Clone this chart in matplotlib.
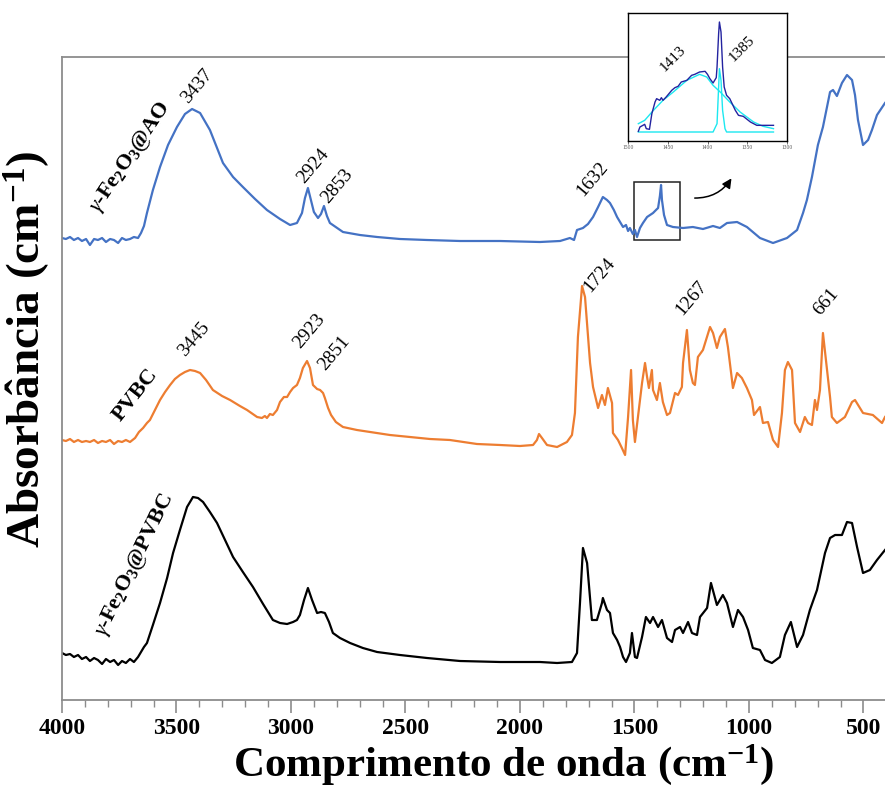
import numpy as np
import matplotlib.pyplot as plt
from matplotlib.patches import Rectangle

plt.rcParams["font.family"] = ["Liberation Serif", "DejaVu Serif"]
plt.rcParams["mathtext.fontset"] = "custom"
plt.rcParams["mathtext.rm"] = "Liberation Serif"
plt.rcParams["mathtext.it"] = "Liberation Serif:italic"
plt.rcParams["mathtext.bf"] = "Liberation Serif:bold"

# ---------------------------------------------------------------------------
# Spectra: (wavenumber cm-1, absorbance a.u.)
# ---------------------------------------------------------------------------
AO = [
    (4000, 4.62), (3983, 4.61), (3965, 4.63), (3948, 4.60), (3930, 4.62), (3913, 4.59),
    (3895, 4.61), (3878, 4.55), (3860, 4.61), (3843, 4.60), (3825, 4.62), (3808, 4.58),
    (3790, 4.61), (3773, 4.60), (3755, 4.57), (3738, 4.62), (3721, 4.60), (3703, 4.61),
    (3686, 4.63), (3668, 4.62), (3655, 4.67), (3642, 4.74), (3629, 4.87), (3603, 5.10),
    (3572, 5.33), (3537, 5.55), (3498, 5.73), (3463, 5.86), (3432, 5.91), (3397, 5.87),
    (3354, 5.70), (3297, 5.37), (3253, 5.23), (3210, 5.13), (3157, 5.01), (3105, 4.90),
    (3048, 4.81), (3004, 4.75), (2974, 4.77), (2952, 4.87), (2939, 5.02), (2926, 5.12),
    (2913, 5.00), (2900, 4.88), (2882, 4.82), (2869, 4.86), (2856, 4.94), (2843, 4.84),
    (2830, 4.77), (2773, 4.68), (2699, 4.65), (2624, 4.63), (2524, 4.61), (2406, 4.60),
    (2262, 4.59), (2087, 4.59), (1913, 4.58), (1825, 4.59), (1782, 4.62), (1764, 4.60),
    (1751, 4.70), (1725, 4.72), (1703, 4.76), (1681, 4.83), (1659, 4.93), (1638, 5.03),
    (1620, 5.00), (1607, 4.97), (1590, 4.90), (1576, 4.83), (1563, 4.78), (1550, 4.73),
    (1537, 4.75), (1528, 4.69), (1520, 4.72), (1507, 4.66), (1498, 4.70), (1489, 4.63),
    (1476, 4.72), (1463, 4.77), (1445, 4.83), (1432, 4.85), (1419, 4.87), (1406, 4.90),
    (1397, 4.92), (1389, 5.04), (1384, 5.15), (1380, 5.00), (1371, 4.85), (1358, 4.75),
    (1332, 4.73), (1288, 4.72), (1245, 4.73), (1201, 4.71), (1157, 4.74), (1127, 4.72),
    (1096, 4.77), (1052, 4.78), (1009, 4.73), (952, 4.62), (895, 4.57), (834, 4.62),
    (790, 4.70), (764, 4.87), (747, 5.00), (725, 5.23), (699, 5.55), (677, 5.73),
    (646, 6.08), (633, 6.10), (616, 6.04), (594, 6.17), (572, 6.25), (550, 6.20),
    (537, 6.05), (524, 5.80), (502, 5.55), (480, 5.60), (463, 5.70), (441, 5.85),
    (406, 5.97),
]

PVBC = [
    (4000, 2.60), (3983, 2.59), (3965, 2.61), (3948, 2.58), (3930, 2.60), (3913, 2.58),
    (3895, 2.59), (3878, 2.58), (3860, 2.60), (3843, 2.57), (3825, 2.59), (3808, 2.58),
    (3790, 2.60), (3773, 2.56), (3755, 2.59), (3738, 2.58), (3721, 2.60), (3703, 2.58),
    (3681, 2.62), (3664, 2.68), (3646, 2.72), (3629, 2.77), (3616, 2.80), (3594, 2.90),
    (3572, 3.00), (3550, 3.08), (3528, 3.15), (3507, 3.21), (3485, 3.25), (3463, 3.28),
    (3441, 3.30), (3419, 3.29), (3397, 3.27), (3371, 3.20), (3341, 3.10), (3301, 3.04),
    (3266, 3.00), (3223, 2.94), (3192, 2.90), (3148, 2.83), (3127, 2.82), (3114, 2.84),
    (3105, 2.82), (3092, 2.86), (3079, 2.85), (3061, 2.90), (3048, 2.98), (3031, 3.03),
    (3017, 3.03), (3004, 3.08), (2991, 3.12), (2974, 3.15), (2961, 3.22), (2948, 3.32),
    (2930, 3.39), (2917, 3.32), (2904, 3.15), (2886, 3.11), (2873, 3.10), (2860, 3.07),
    (2852, 3.02), (2838, 2.92), (2825, 2.85), (2804, 2.78), (2773, 2.73), (2712, 2.70),
    (2655, 2.68), (2568, 2.65), (2480, 2.63), (2393, 2.61), (2306, 2.60), (2188, 2.56),
    (2087, 2.55), (2000, 2.54), (1943, 2.55), (1926, 2.60), (1917, 2.66), (1904, 2.62),
    (1882, 2.55), (1838, 2.53), (1795, 2.58), (1773, 2.65), (1760, 2.87), (1747, 3.63),
    (1729, 4.14), (1716, 4.03), (1694, 3.37), (1681, 3.13), (1659, 2.92), (1642, 3.05),
    (1629, 2.95), (1616, 3.12), (1598, 2.97), (1594, 2.67), (1572, 2.60), (1555, 2.52),
    (1541, 2.45), (1528, 2.83), (1515, 3.30), (1507, 2.80), (1498, 2.58), (1485, 2.83),
    (1467, 3.17), (1454, 3.37), (1445, 3.23), (1437, 3.12), (1424, 3.30), (1419, 3.10),
    (1402, 3.00), (1389, 3.17), (1376, 2.98), (1358, 2.85), (1345, 2.87), (1323, 3.07),
    (1310, 3.05), (1293, 3.13), (1288, 3.37), (1271, 3.70), (1258, 3.30), (1245, 3.17),
    (1236, 3.15), (1223, 3.43), (1201, 3.50), (1170, 3.73), (1157, 3.67), (1140, 3.52),
    (1127, 3.63), (1105, 3.71), (1092, 3.53), (1074, 3.20), (1070, 3.12), (1052, 3.27),
    (1031, 3.22), (1009, 3.12), (987, 3.00), (978, 2.85), (952, 2.93), (939, 2.77),
    (917, 2.78), (895, 2.60), (873, 2.53), (856, 2.87), (843, 3.30), (830, 3.38),
    (812, 3.30), (799, 2.77), (777, 2.68), (756, 2.83), (742, 2.77), (725, 2.75),
    (712, 3.00), (703, 2.90), (690, 3.10), (677, 3.67), (659, 3.30), (646, 3.03),
    (638, 2.83), (616, 2.77), (581, 2.83), (550, 2.98), (537, 3.00), (502, 2.87),
    (459, 2.85), (419, 2.77), (406, 2.83),
]

FE2O3_PVBC = [
    (4000, 0.47), (3983, 0.45), (3965, 0.46), (3948, 0.43), (3930, 0.45), (3913, 0.41),
    (3895, 0.43), (3878, 0.39), (3860, 0.42), (3843, 0.40), (3825, 0.36), (3808, 0.41),
    (3790, 0.38), (3773, 0.40), (3755, 0.35), (3738, 0.39), (3721, 0.37), (3703, 0.41),
    (3686, 0.38), (3668, 0.43), (3655, 0.48), (3642, 0.53), (3629, 0.57), (3603, 0.75),
    (3572, 0.97), (3541, 1.22), (3515, 1.47), (3485, 1.70), (3454, 1.93), (3428, 2.03),
    (3406, 2.02), (3384, 1.98), (3354, 1.88), (3323, 1.77), (3288, 1.60), (3253, 1.43),
    (3210, 1.28), (3166, 1.13), (3122, 0.96), (3079, 0.80), (3048, 0.77), (3017, 0.76),
    (2991, 0.78), (2974, 0.80), (2961, 0.85), (2943, 1.00), (2926, 1.12), (2908, 1.00),
    (2886, 0.87), (2869, 0.88), (2852, 0.87), (2834, 0.78), (2817, 0.67), (2786, 0.62),
    (2742, 0.57), (2686, 0.52), (2624, 0.48), (2524, 0.45), (2406, 0.42), (2262, 0.39),
    (2087, 0.38), (1913, 0.38), (1838, 0.37), (1773, 0.38), (1751, 0.47), (1738, 0.97),
    (1725, 1.52), (1707, 1.37), (1686, 0.80), (1664, 0.80), (1642, 0.97), (1638, 1.02),
    (1620, 0.90), (1607, 0.87), (1594, 0.67), (1576, 0.60), (1563, 0.53), (1550, 0.43),
    (1537, 0.38), (1520, 0.47), (1511, 0.67), (1498, 0.43), (1489, 0.42), (1467, 0.63),
    (1450, 0.83), (1432, 0.77), (1419, 0.83), (1397, 0.73), (1380, 0.80), (1358, 0.62),
    (1336, 0.58), (1323, 0.70), (1301, 0.73), (1288, 0.67), (1266, 0.78), (1249, 0.67),
    (1227, 0.65), (1214, 0.83), (1183, 0.92), (1166, 1.17), (1140, 0.95), (1114, 1.05),
    (1096, 0.97), (1070, 0.73), (1048, 0.90), (1026, 0.83), (1004, 0.70), (983, 0.52),
    (952, 0.50), (930, 0.40), (900, 0.37), (865, 0.43), (843, 0.65), (817, 0.78),
    (790, 0.53), (764, 0.65), (734, 0.90), (703, 1.10), (668, 1.47), (646, 1.62),
    (624, 1.65), (594, 1.65), (572, 1.78), (550, 1.77), (528, 1.53), (502, 1.27),
    (472, 1.30), (441, 1.40), (406, 1.50),
]

# inset: deconvolution of the 1500-1300 cm-1 region of gamma-Fe2O3@AO
INSET_MEASURED = [
    (1487, 0.29), (1485, 0.42), (1479, 0.50), (1477, 0.37), (1473, 0.35), (1470, 0.82),
    (1466, 1.17), (1464, 1.27), (1460, 1.22), (1458, 1.30), (1456, 1.22), (1452, 1.32),
    (1445, 1.52), (1441, 1.60), (1437, 1.64), (1433, 1.77), (1426, 1.82), (1420, 1.97),
    (1416, 2.00), (1410, 2.07), (1403, 2.09), (1400, 2.00), (1397, 1.87), (1393, 1.74),
    (1389, 1.90), (1388, 2.22), (1386, 3.22), (1385, 3.57), (1383, 3.27), (1381, 2.22),
    (1379, 1.62), (1376, 1.37), (1372, 1.27), (1365, 0.92), (1361, 0.77), (1355, 0.74),
    (1346, 0.57), (1338, 0.47), (1317, 0.47),
]
INSET_BROAD = [
    (1487, 0.52), (1479, 0.62), (1468, 0.92), (1456, 1.22), (1443, 1.47), (1426, 1.82),
    (1410, 2.00), (1401, 1.92), (1393, 1.67), (1384, 1.47), (1372, 1.17), (1359, 0.87),
    (1342, 0.57), (1330, 0.44), (1317, 0.37),
]
INSET_NARROW = [
    (1487, 0.27), (1393, 0.27), (1388, 0.52), (1386, 1.62), (1385, 2.17), (1383, 1.82),
    (1381, 0.92), (1378, 0.37), (1376, 0.27), (1317, 0.27),
]
INSET_TICKS = [1500, 1450, 1400, 1350, 1300]
ZOOM_BOX_Y = (4.60, 5.18)

# peak labels: (text, wavenumber, absorbance) of the label anchor
AO_PEAKS = [("3437", 3450, 5.96), ("2924", 2943, 5.16), ("2853", 2838, 4.96), ("1632", 1725, 5.03)]
PVBC_PEAKS = [("3445", 3463, 3.43), ("2923", 2961, 3.51), ("2851", 2852, 3.29),
              ("1724", 1694, 4.07), ("1267", 1293, 3.84), ("661", 690, 3.84)]
INSET_PEAKS = [("1413", 1454, 2.07), ("1385", 1367, 2.37)]

# sample names: (text, wavenumber, absorbance, rotation)
SAMPLES = [
    (r"$\gamma$-Fe$_\mathbf{2}$O$_\mathbf{3}$@AO", 3703, 5.43, 56),
    ("PVBC", 3681, 3.05, 52),
    (r"$\gamma$-Fe$_\mathbf{2}$O$_\mathbf{3}$@PVBC", 3681, 1.35, 64),
]

BLUE, ORANGE, BLACK = "#4472C4", "#ED7D31", "#000000"
NAVY, CYAN = "#2323A0", "#1CE8F0"
GREY = "#8c8c8c"

fig = plt.figure(figsize=(8.85, 8.01), dpi=100)
ax = fig.add_axes([62 / 885, 1 - 700 / 801, 1 - 62 / 885, 643 / 801])

for pts, col in [(AO, BLUE), (PVBC, ORANGE), (FE2O3_PVBC, BLACK)]:
    wn, ab = np.array(pts).T
    ax.plot(wn, ab, color=col, lw=1.6, solid_joinstyle="round")

ax.set_xlim(4000, 406)
ax.set_ylim(0, 6.43)
ax.set_yticks([])
ax.set_xticks(np.arange(4000, 400, -500))
ax.set_xticks(np.arange(4000, 400, -100), minor=True)
ax.tick_params(axis="x", which="major", direction="out", length=9, width=1.2,
               color=GREY, labelsize=17, pad=4)
ax.tick_params(axis="x", which="minor", direction="out", length=5, width=1.0, color=GREY)
for lbl in ax.get_xticklabels():
    lbl.set_fontweight("bold")
for side in ["left", "top", "bottom"]:
    ax.spines[side].set_color(GREY)
    ax.spines[side].set_linewidth(1.3)
ax.spines["right"].set_visible(False)

ax.set_xlabel(r"Comprimento de onda (cm$^{\mathbf{-1}}$)", fontsize=31, fontweight="bold")
ax.xaxis.set_label_coords(0.536, -0.066)
ax.set_ylabel(r"Absorbância (cm$^{\mathbf{-1}}$)", fontsize=34, fontweight="bold")
ax.yaxis.set_label_coords(-0.012, 0.545)

for peaks in (AO_PEAKS, PVBC_PEAKS):
    for txt, wn, ab in peaks:
        ax.text(wn, ab, txt, fontsize=14, rotation=50, rotation_mode="anchor",
                ha="left", va="baseline")

for txt, wn, ab, rot in SAMPLES:
    ax.text(wn, ab, txt, fontsize=16, fontweight="bold", rotation=rot,
            rotation_mode="anchor", ha="center", va="center")

# zoom box and arrow
ax.add_patch(Rectangle((INSET_TICKS[0], ZOOM_BOX_Y[0]), INSET_TICKS[-1] - INSET_TICKS[0],
                       ZOOM_BOX_Y[1] - ZOOM_BOX_Y[0], fill=False, ec="#222222", lw=1.1))
ax.annotate("", xy=(1070, 5.24), xytext=(1249, 5.02),
            arrowprops=dict(arrowstyle="-|>", color="black", lw=1.1,
                            connectionstyle="arc3,rad=0.3", mutation_scale=14))

# inset
ins = fig.add_axes([628 / 885, 1 - 141 / 801, 159 / 885, 128 / 801])
for pts, col in [(INSET_BROAD, CYAN), (INSET_NARROW, CYAN), (INSET_MEASURED, NAVY)]:
    wn, ab = np.array(pts).T
    ins.plot(wn, ab, color=col, lw=1.0)
ins.set_xlim(INSET_TICKS[0], INSET_TICKS[-1])
ins.set_ylim(0, 3.84)
ins.set_yticks([])
ins.set_xticks(INSET_TICKS)
ins.tick_params(axis="x", length=2, width=0.6, labelsize=4, pad=1, colors="#555555")
for sp in ins.spines.values():
    sp.set_color("black")
    sp.set_linewidth(1.0)
for txt, wn, ab in INSET_PEAKS:
    ins.text(wn, ab, txt, fontsize=11, rotation=45, rotation_mode="anchor",
             ha="left", va="baseline")

fig.savefig("out.png", dpi=100)
